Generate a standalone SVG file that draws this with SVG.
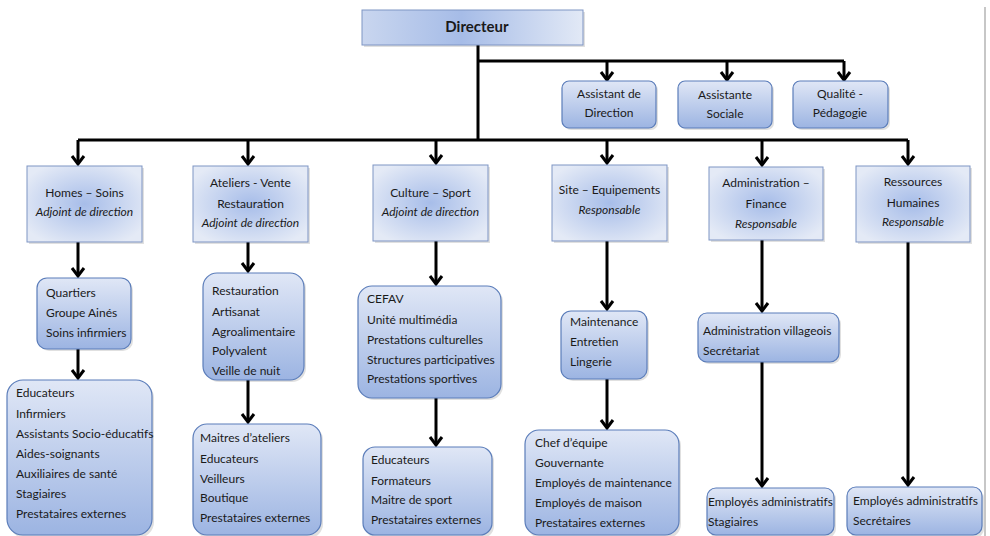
<svg xmlns="http://www.w3.org/2000/svg" width="990" height="536" viewBox="0 0 990 536">
<defs>
<linearGradient id="gDir" x1="0" y1="0" x2="1" y2="0">
<stop offset="0" stop-color="#c9d6ef"/><stop offset="0.45" stop-color="#a6bce7"/><stop offset="1" stop-color="#e2e9f6"/>
</linearGradient>
<radialGradient id="gRad" cx="0.5" cy="0.5" r="0.6">
<stop offset="0" stop-color="#a7bde9"/><stop offset="1" stop-color="#e4eaf6"/>
</radialGradient>
<linearGradient id="gRound" x1="0" y1="0" x2="0" y2="1">
<stop offset="0" stop-color="#e0e7f6"/><stop offset="1" stop-color="#9cb4e2"/>
</linearGradient>
<marker id="arr" markerUnits="userSpaceOnUse" markerWidth="20" markerHeight="20" refX="0" refY="0" viewBox="-10 -10 20 20" orient="auto" overflow="visible">
<path d="M-8,-6 L0,0 L-8,6" fill="none" stroke="#000" stroke-width="3" stroke-linejoin="miter"/>
</marker>
</defs>
<style>
text{font-family:Lato,"Liberation Sans",sans-serif;font-size:12px;fill:#1a1a1a}
.c{text-anchor:middle}
.i{font-style:italic}
.b{font-weight:bold;font-size:15px}
.dir{fill:url(#gDir);stroke:#7e95c4;stroke-width:1}
.l1{fill:url(#gRad);stroke:#7e95c4;stroke-width:1}
.rd{fill:url(#gRound);stroke:#5b7dba;stroke-width:1.2}
.sh{fill:#000;opacity:0.12}
.ln{fill:none;stroke:#000;stroke-width:3}
.ar{fill:none;stroke:#000;stroke-width:3;marker-end:url(#arr)}
</style>
<line x1="985" y1="7" x2="985" y2="536" stroke="#b4b4b4" stroke-width="1.5"/>
<g id="connectors">
<path class="ln" d="M478,45 V140"/>
<path class="ln" d="M478,61 H844"/>
<path class="ar" d="M607,61 V80"/>
<path class="ar" d="M727,61 V80"/>
<path class="ar" d="M844,61 V80"/>
<path class="ln" d="M78,140 H908"/>
<path class="ar" d="M78,140 V164"/>
<path class="ar" d="M248,140 V164"/>
<path class="ar" d="M436,140 V163"/>
<path class="ar" d="M607,140 V163"/>
<path class="ar" d="M762,140 V165"/>
<path class="ar" d="M908,140 V164"/>
<path class="ar" d="M78,242 V276"/>
<path class="ar" d="M78,349 V378"/>
<path class="ar" d="M248,242 V271"/>
<path class="ar" d="M248,380 V422"/>
<path class="ar" d="M436,241 V284"/>
<path class="ar" d="M436,398 V445"/>
<path class="ar" d="M607,241 V309"/>
<path class="ar" d="M607,379 V428"/>
<path class="ar" d="M762,240 V311"/>
<path class="ar" d="M762,362 V486"/>
<path class="ar" d="M908,242 V485"/>
</g>
<g id="directeur">
<rect x="364" y="12" width="221" height="35" class="sh"/>
<rect x="362" y="10" width="221" height="35" class="dir"/>
<text x="477" y="32" class="c b">Directeur</text>
</g>
<g id="assistant-direction">
<rect x="564" y="83" width="94" height="47" rx="7" class="sh"/>
<rect x="562" y="81" width="94" height="47" rx="7" class="rd"/>
<text x="609" y="98" class="c">Assistant de</text>
<text x="609" y="117" class="c">Direction</text>
</g>
<g id="assistante-sociale">
<rect x="680" y="83" width="94" height="47" rx="7" class="sh"/>
<rect x="678" y="81" width="94" height="47" rx="7" class="rd"/>
<text x="725" y="99" class="c">Assistante</text>
<text x="725" y="118" class="c">Sociale</text>
</g>
<g id="qualite">
<rect x="795" y="83" width="95" height="47" rx="7" class="sh"/>
<rect x="793" y="81" width="95" height="47" rx="7" class="rd"/>
<text x="840" y="98" class="c">Qualité -</text>
<text x="840" y="117" class="c">Pédagogie</text>
</g>
<g id="homes-soins">
<rect x="29" y="168" width="115" height="76" class="sh"/>
<rect x="27" y="166" width="115" height="76" class="l1"/>
<text x="84.5" y="197" class="c">Homes – Soins</text>
<text x="84.5" y="216" class="c i">Adjoint de direction</text>
</g>
<g id="ateliers-vente">
<rect x="195" y="168" width="115" height="76" class="sh"/>
<rect x="193" y="166" width="115" height="76" class="l1"/>
<text x="250.5" y="187" class="c">Ateliers - Vente</text>
<text x="250.5" y="208" class="c">Restauration</text>
<text x="250.5" y="227" class="c i">Adjoint de direction</text>
</g>
<g id="culture-sport">
<rect x="375" y="167" width="115" height="76" class="sh"/>
<rect x="373" y="165" width="115" height="76" class="l1"/>
<text x="430.5" y="197" class="c">Culture – Sport</text>
<text x="430.5" y="216" class="c i">Adjoint de direction</text>
</g>
<g id="site-equipements">
<rect x="554" y="167" width="115" height="76" class="sh"/>
<rect x="552" y="165" width="115" height="76" class="l1"/>
<text x="609.5" y="194" class="c">Site – Equipements</text>
<text x="609.5" y="214" class="c i">Responsable</text>
</g>
<g id="administration-finance">
<rect x="711" y="169" width="114" height="73" class="sh"/>
<rect x="709" y="167" width="114" height="73" class="l1"/>
<text x="766" y="187" class="c">Administration –</text>
<text x="766" y="208" class="c">Finance</text>
<text x="766" y="228" class="c i">Responsable</text>
</g>
<g id="ressources-humaines">
<rect x="858" y="168" width="114" height="76" class="sh"/>
<rect x="856" y="166" width="114" height="76" class="l1"/>
<text x="913" y="186" class="c">Ressources</text>
<text x="913" y="207" class="c">Humaines</text>
<text x="913" y="226" class="c i">Responsable</text>
</g>
<g id="quartiers">
<rect x="39" y="280" width="94" height="71" rx="10" class="sh"/>
<rect x="37" y="278" width="94" height="71" rx="10" class="rd"/>
<text x="46" y="297">Quartiers</text>
<text x="46" y="317">Groupe Ainés</text>
<text x="46" y="337">Soins infirmiers</text>
</g>
<g id="homes-personnel">
<rect x="9" y="382" width="145" height="156" rx="16" class="sh"/>
<rect x="7" y="380" width="145" height="155" rx="16" class="rd"/>
<text x="16" y="397">Educateurs</text>
<text x="16" y="418">Infirmiers</text>
<text x="16" y="438">Assistants Socio-éducatifs</text>
<text x="16" y="458">Aides-soignants</text>
<text x="16" y="478">Auxiliaires de santé</text>
<text x="16" y="498">Stagiaires</text>
<text x="16" y="518">Prestataires externes</text>
</g>
<g id="restauration">
<rect x="205" y="275" width="101" height="107" rx="14" class="sh"/>
<rect x="203" y="273" width="101" height="107" rx="14" class="rd"/>
<text x="212" y="295">Restauration</text>
<text x="212" y="316">Artisanat</text>
<text x="212" y="336">Agroalimentaire</text>
<text x="212" y="355">Polyvalent</text>
<text x="212" y="375">Veille de nuit</text>
</g>
<g id="ateliers-personnel">
<rect x="195" y="426" width="128" height="112" rx="14" class="sh"/>
<rect x="193" y="424" width="128" height="111" rx="14" class="rd"/>
<text x="200" y="442">Maitres d’ateliers</text>
<text x="200" y="463">Educateurs</text>
<text x="200" y="483">Veilleurs</text>
<text x="200" y="502">Boutique</text>
<text x="200" y="522">Prestataires externes</text>
</g>
<g id="cefav">
<rect x="360" y="288" width="143" height="112" rx="14" class="sh"/>
<rect x="358" y="286" width="143" height="112" rx="14" class="rd"/>
<text x="367" y="303">CEFAV</text>
<text x="367" y="324">Unité multimédia</text>
<text x="367" y="344">Prestations culturelles</text>
<text x="367" y="364">Structures participatives</text>
<text x="367" y="383">Prestations sportives</text>
</g>
<g id="culture-personnel">
<rect x="365" y="449" width="129" height="89" rx="12" class="sh"/>
<rect x="363" y="447" width="129" height="88" rx="12" class="rd"/>
<text x="371" y="464">Educateurs</text>
<text x="371" y="485">Formateurs</text>
<text x="371" y="504">Maitre de sport</text>
<text x="371" y="524">Prestataires externes</text>
</g>
<g id="maintenance">
<rect x="563" y="313" width="86" height="68" rx="10" class="sh"/>
<rect x="561" y="311" width="86" height="68" rx="10" class="rd"/>
<text x="570" y="326">Maintenance</text>
<text x="570" y="346">Entretien</text>
<text x="570" y="366">Lingerie</text>
</g>
<g id="site-personnel">
<rect x="527" y="432" width="154" height="106" rx="14" class="sh"/>
<rect x="525" y="430" width="154" height="105" rx="14" class="rd"/>
<text x="535" y="447">Chef d’équipe</text>
<text x="535" y="467">Gouvernante</text>
<text x="535" y="487">Employés de maintenance</text>
<text x="535" y="507">Employés de maison</text>
<text x="535" y="527">Prestataires externes</text>
</g>
<g id="administration-villageois">
<rect x="700" y="315" width="141" height="49" rx="9" class="sh"/>
<rect x="698" y="313" width="141" height="49" rx="9" class="rd"/>
<text x="703" y="335">Administration villageois</text>
<text x="703" y="355">Secrétariat</text>
</g>
<g id="admin-personnel">
<rect x="709" y="490" width="127" height="48" rx="9" class="sh"/>
<rect x="707" y="488" width="127" height="47" rx="9" class="rd"/>
<text x="708" y="506">Employés administratifs</text>
<text x="708" y="526">Stagiaires</text>
</g>
<g id="rh-personnel">
<rect x="849" y="489" width="135" height="49" rx="9" class="sh"/>
<rect x="847" y="487" width="135" height="48" rx="9" class="rd"/>
<text x="853" y="505">Employés administratifs</text>
<text x="853" y="525">Secrétaires</text>
</g>
</svg>
